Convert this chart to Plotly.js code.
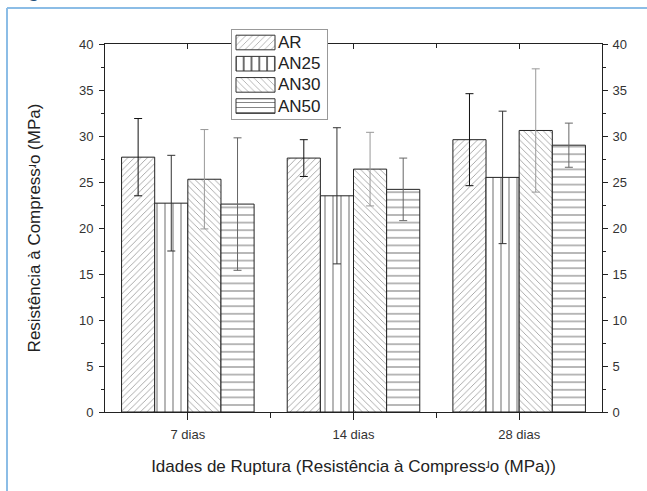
<!DOCTYPE html>
<html><head><meta charset="utf-8">
<script src="https://cdn.plot.ly/plotly-3.0.1.min.js"></script>
<style>html,body{margin:0;padding:0;background:#fff}#chart{width:647px;height:491px}</style>
</head><body><div id="chart"></div>
<script>
const categories = ['7 dias', '14 dias', '28 dias'];
const seriesNames = ['AR', 'AN25', 'AN30', 'AN50'];
const AR = [27.7, 27.6, 29.6];
const AR_err = [4.2, 2.0, 5.0];
const AN25 = [22.7, 23.5, 25.5];
const AN25_err = [5.2, 7.4, 7.2];
const AN30 = [25.3, 26.4, 30.6];
const AN30_err = [5.4, 4.0, 6.7];
const AN50 = [22.6, 24.2, 29.0];
const AN50_err = [7.2, 3.4, 2.4];
const yTickVals = [0, 5, 10, 15, 20, 25, 30, 35, 40];
const xTitle = 'Idades de Ruptura (Resistência à Compressʴo (MPa))';
const yTitle = 'Resistência à Compressʴo (MPa)';
const figCaption = 'Figura';

const FONT = 'Liberation Sans, Arial, sans-serif';
const xIdx = categories.map((c, i) => i);
const values = [AR, AN25, AN30, AN50];
const errs = [AR_err, AN25_err, AN30_err, AN50_err];
const shapes = ['/', '|', '\\', '-'];
const sizes = [4.6, 8, 4.6, 7.6];
const errColors = ['#111', '#333', '#999', '#666'];
const legendFg = ['#aaa', '#333', '#aaa', '#777'];

const traces = seriesNames.map((name, k) => ({
  type: 'bar', name: name, x: xIdx, y: values[k],
  xaxis: 'x', yaxis: 'y',
  marker: {
    color: 'white',
    line: {color: '#222', width: 1},
    pattern: {shape: shapes[k], size: sizes[k], solidity: 0.18, fgcolor: '#9a9a9a', bgcolor: 'white', fillmode: 'replace'}
  },
  error_y: {type: 'data', array: errs[k], visible: true, color: errColors[k], thickness: 1, width: 4},
  showlegend: false, hoverinfo: 'skip'
}));

// custom legend drawn as horizontal bars in an inset subplot
traces.push({
  type: 'bar', orientation: 'h', xaxis: 'x2', yaxis: 'y2',
  y: seriesNames, x: seriesNames.map(() => 1), width: 0.69,
  text: seriesNames, textposition: 'outside', constraintext: 'none', cliponaxis: false,
  textfont: {family: FONT, size: 17, color: '#222'},
  marker: {
    color: 'white', line: {color: '#333', width: 1},
    pattern: {shape: shapes, size: [4.6, 7.8, 4.6, 5], solidity: 0.18, fgcolor: legendFg, bgcolor: 'white', fillmode: 'replace'}
  },
  showlegend: false, hoverinfo: 'skip'
});

// invisible trace to carry the mirrored top / right axes
traces.push({type: 'scatter', mode: 'none', x: xIdx, y: AR, xaxis: 'x3', yaxis: 'y3', showlegend: false, hoverinfo: 'skip'});

const H = 491, T = 24, B = 79;
const ph = H - T - B;
const py = p => (H - B - p) / ph;
const L = 105, R = 45, W = 647 - L - R;
const px = p => (p - L) / W;

const tickFont = {family: FONT, size: 13, color: '#333'};

const layout = {
  width: 647, height: 491,
  margin: {l: L, r: R, t: T, b: B},
  paper_bgcolor: 'white', plot_bgcolor: 'white',
  font: {family: FONT, color: '#222'},
  barmode: 'group', bargap: 0.2, bargroupgap: 0,
  showlegend: false,
  xaxis: {
    domain: [0, 1], anchor: 'y', range: [-0.5, 2.5],
    tickmode: 'array', tickvals: xIdx, ticktext: categories,
    ticks: 'outside', ticklen: 7, tickcolor: '#222', tickwidth: 1,
    minor: {tickmode: 'array', tickvals: [0.5, 1.5], ticks: 'outside', ticklen: 5, tickcolor: '#222'},
    showline: true, linecolor: '#222', linewidth: 1,
    showgrid: false, zeroline: false, tickfont: tickFont, ticklabelstandoff: 3,
    title: {text: xTitle, font: {family: FONT, size: 17, color: '#222'}, standoff: 19}
  },
  yaxis: {
    domain: [0, py(44)], anchor: 'x', range: [0, 40],
    tickmode: 'array', tickvals: yTickVals,
    ticks: 'outside', ticklen: 5, tickcolor: '#222',
    minor: {dtick: 2.5, ticks: 'outside', ticklen: 3, tickcolor: '#222'},
    showline: true, linecolor: '#222', linewidth: 1,
    showgrid: false, zeroline: false, tickfont: tickFont, ticklabelstandoff: 3,
    title: {text: yTitle, font: {family: FONT, size: 17, color: '#222'}, standoff: 33}
  },
  xaxis3: {
    overlaying: 'x', anchor: 'y3', side: 'top', range: [-0.5, 2.5],
    tickmode: 'array', tickvals: xIdx, ticks: 'inside', ticklen: 5, tickcolor: '#222',
    minor: {tickmode: 'array', tickvals: [0.5, 1.5], ticks: 'inside', ticklen: 4, tickcolor: '#222'},
    showticklabels: false, showline: true, linecolor: '#222', showgrid: false, zeroline: false
  },
  yaxis3: {
    overlaying: 'y', anchor: 'x3', side: 'right', range: [0, 40],
    tickmode: 'array', tickvals: yTickVals,
    ticks: 'outside', ticklen: 5, tickcolor: '#222',
    minor: {dtick: 2.5, ticks: 'outside', ticklen: 3, tickcolor: '#222'},
    showline: true, linecolor: '#222', showgrid: false, zeroline: false,
    tickfont: tickFont, ticklabelstandoff: 2
  },
  xaxis2: {
    domain: [px(232), px(327)], anchor: 'y2', range: [-4 / 39, 1 + 52 / 39],
    showticklabels: false, ticks: '', showgrid: false, zeroline: false,
    showline: true, mirror: true, linecolor: '#999', linewidth: 1
  },
  yaxis2: {
    domain: [py(119), py(30)], anchor: 'x2', type: 'category',
    range: [3.61, -0.59],
    showticklabels: false, ticks: '', showgrid: false, zeroline: false,
    showline: true, mirror: true, linecolor: '#999', linewidth: 1
  },
  shapes: [
    {type: 'line', xref: 'paper', yref: 'paper', x0: px(7), x1: px(650), y0: py(8), y1: py(8), line: {color: '#8cbde6', width: 2}},
    {type: 'line', xref: 'paper', yref: 'paper', x0: px(7), x1: px(7), y0: py(8), y1: py(495), line: {color: '#8cbde6', width: 2}}
  ],
  annotations: [
    {text: '<b>' + figCaption + '</b>', xref: 'paper', yref: 'paper', x: px(8), y: py(3), xanchor: 'left', yanchor: 'bottom',
     showarrow: false, font: {family: FONT, size: 20, color: '#1f4e79'}}
  ]
};

Plotly.newPlot('chart', traces, layout, {displayModeBar: false, staticPlot: true});
</script>
</body></html>
